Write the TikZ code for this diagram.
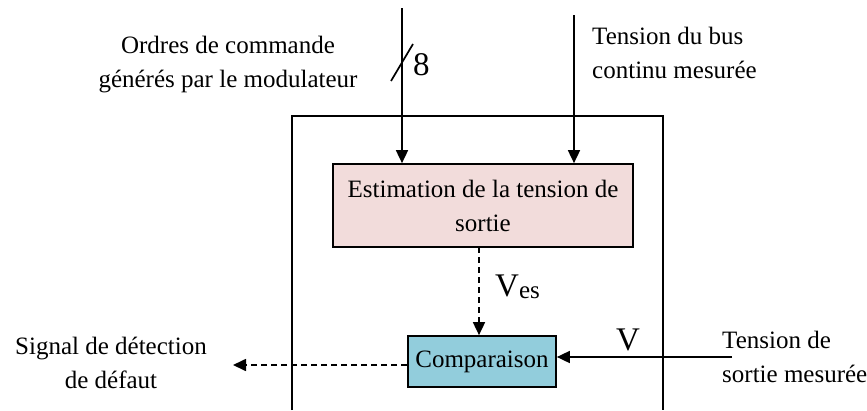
\documentclass[tikz,border=0pt]{standalone}
\usepackage{fontspec}
\setmainfont{Liberation Serif}
\usetikzlibrary{arrows.meta}
\definecolor{pinkfill}{HTML}{F2DCDB}
\definecolor{bluefill}{HTML}{92CDDC}
\begin{document}
\begin{tikzpicture}[x=1pt,y=-1pt,
  every node/.style={font=\fontsize{25}{34}\selectfont, inner sep=0pt},
  bigtext/.style={font=\fontsize{33}{36}\selectfont},
  blockbox/.style={draw, line width=1.7pt, minimum width=#1},
  arr/.style={line width=1.7pt, -{Triangle[length=13pt,width=12pt]}},
  darr/.style={line width=1.7pt, dash pattern=on 6pt off 4pt, -{Triangle[length=13pt,width=12pt]}},
  lbl/.style={align=center, anchor=base}
]
\useasboundingbox (0,0) rectangle (867,410);
% frame
\draw[line width=1.7pt] (292,410) -- (292,116) -- (663,116) -- (663,410);
% blocks
\node[blockbox, fill=pinkfill, minimum width=300pt, minimum height=83pt, align=center] (est) at (483,205.5)
  {Estimation de la tension de\\sortie};
\node[blockbox, fill=bluefill, minimum width=148pt, minimum height=51pt] (comp) at (482,361.5) {Comparaison};
% inputs
\coordinate (in1) at (402,8);
\coordinate (in2) at (574,15);
\draw[arr] (in1) -- (in1 |- est.north);
\draw[arr] (in2) -- (in2 |- est.north);
\coordinate (s1) at (391,81);
\coordinate (s2) at (413,44);
\draw[line width=1.7pt] (s1) -- (s2);
\node[bigtext, anchor=base west] (eight) at (413,75) {8};
% estimation to comparison
\coordinate (d1) at (479,247);
\draw[darr] (d1) -- (d1 |- comp.north);
\node[bigtext, anchor=base west] (ves) at (495,296) {V\raisebox{-2pt}{\fontsize{25}{25}\selectfont es}};
% measured voltage
\coordinate (vin) at (732,357);
\draw[arr] (vin) -- (comp.east |- vin);
\node[bigtext, anchor=base] (vlab) at (628,350) {V};
% output
\coordinate (out) at (233,365);
\draw[darr] (comp.west |- out) -- (out);
% labels
\node[lbl] (ordres) at (228,87) {Ordres de commande\\générés par le modulateur};
\node[lbl, align=left, anchor=base west] (bus) at (592,78) {Tension du bus\\continu mesurée};
\node[lbl, align=left, anchor=base west] (tsort) at (722,382) {Tension de\\sortie mesurée};
\node[lbl] (signal) at (111,388) {Signal de détection\\de défaut};
\end{tikzpicture}
\end{document}
